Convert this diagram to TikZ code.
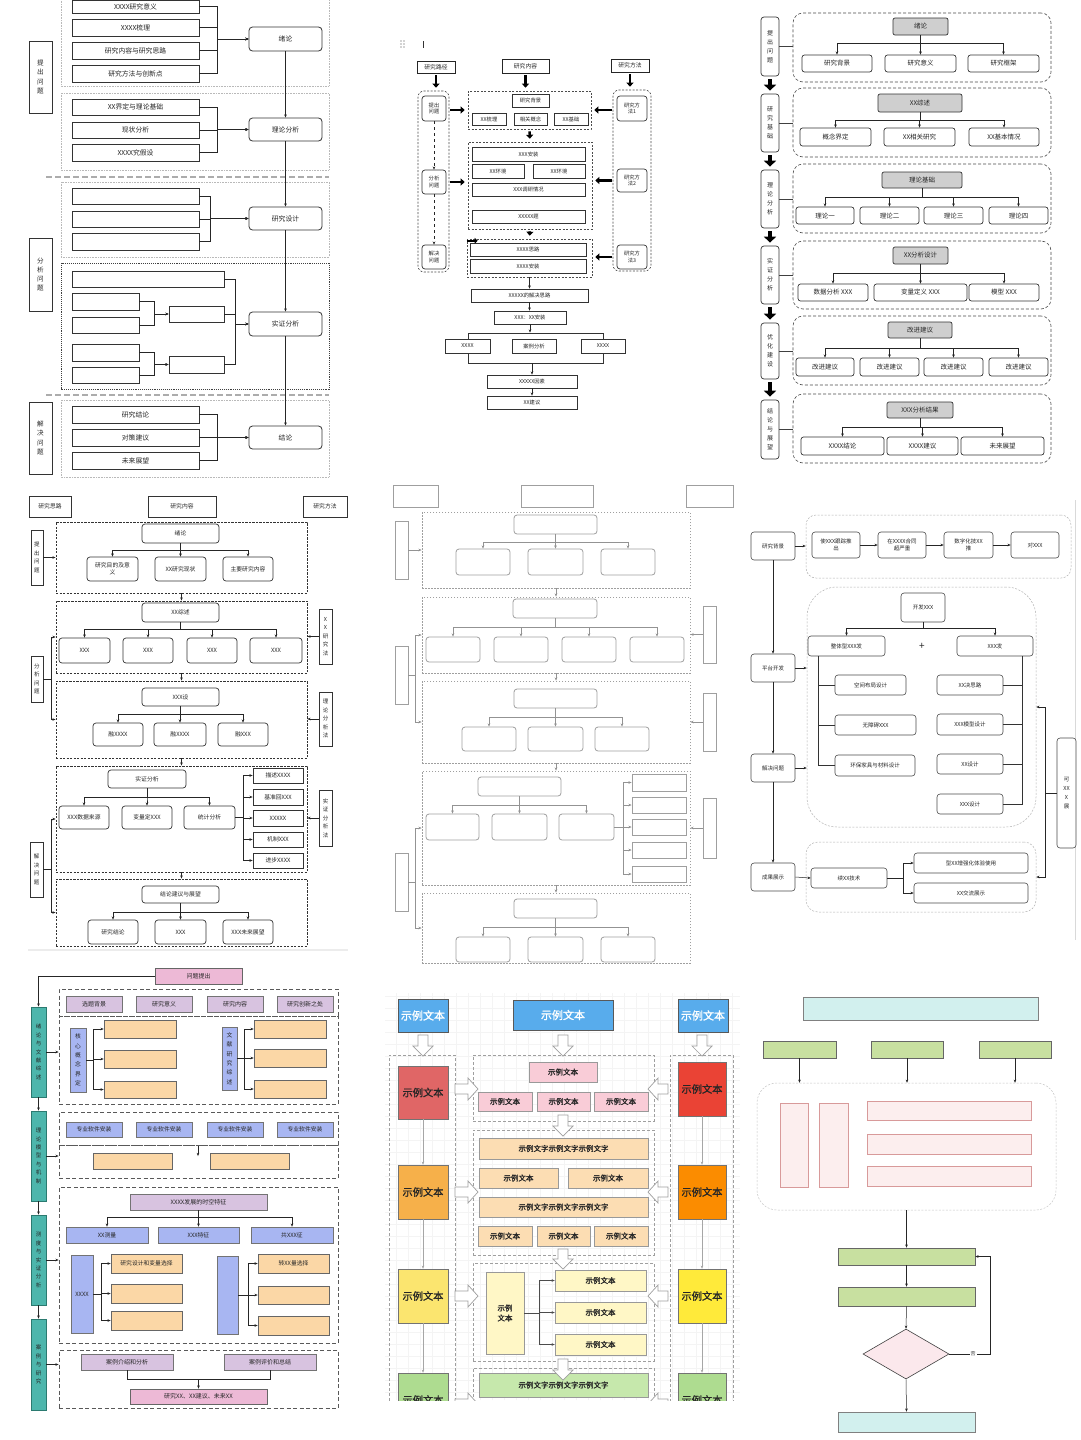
\documentclass[tikz,border=0pt]{standalone}
\usepackage{fontspec}
\setmainfont{Noto Sans CJK SC}
\newfontfamily\cjkb{Noto Sans CJK SC}[FakeBold=1.5]
\usetikzlibrary{arrows.meta,shapes.geometric}
\definecolor{tealL}{HTML}{4DB6AC}
\definecolor{tealD}{HTML}{2B7A70}
\definecolor{pinkQ}{HTML}{EDB9D6}
\definecolor{purL}{HTML}{D8C3E0}
\definecolor{bluL}{HTML}{A8B6F2}
\definecolor{orgL}{HTML}{FBD7A6}
\definecolor{skyB}{HTML}{58ACEC}
\definecolor{redA}{HTML}{E06666}
\definecolor{redB}{HTML}{EA4335}
\definecolor{orA}{HTML}{F6B04A}
\definecolor{orB}{HTML}{FB8C00}
\definecolor{yeA}{HTML}{FBE56F}
\definecolor{yeB}{HTML}{FFEA3A}
\definecolor{grA}{HTML}{AEDC90}
\definecolor{pkC}{HTML}{F9CCD7}
\definecolor{orC}{HTML}{FCDDB3}
\definecolor{yeC}{HTML}{FFF7C6}
\definecolor{grC}{HTML}{C6E8AC}
\definecolor{cyP}{HTML}{D2F0EE}
\definecolor{grP}{HTML}{C8E0A0}
\definecolor{pkP}{HTML}{FCEEEE}
\definecolor{pkD}{HTML}{D89A9A}
\definecolor{dmP}{HTML}{FBE8EC}
\newcommand{\Bx}[7]{\node[bx,#1,minimum width={(#5-#3)*1pt},minimum height={(#6-#4)*1pt}] (#2) at ({(#3+#5)/2},{(#4+#6)/2}) {#7};}
\newcommand{\HD}[3]{\draw[harr] ({#1-5},{#2}) -- ({#1+5},{#2}) -- ({#1+5},{#3-10}) -- ({#1+10},{#3-10}) -- ({#1},{#3}) -- ({#1-10},{#3-10}) -- ({#1-5},{#3-10}) -- cycle;}
\newcommand{\HR}[3]{\draw[harr] ({#2},{#1-5}) -- ({#3-10},{#1-5}) -- ({#3-10},{#1-11}) -- ({#3},{#1}) -- ({#3-10},{#1+11}) -- ({#3-10},{#1+5}) -- ({#2},{#1+5}) -- cycle;}
\newcommand{\HL}[3]{\draw[harr] ({#2},{#1-5}) -- ({#3+10},{#1-5}) -- ({#3+10},{#1-11}) -- ({#3},{#1}) -- ({#3+10},{#1+11}) -- ({#3+10},{#1+5}) -- ({#2},{#1+5}) -- cycle;}
\tikzset{
 bx/.style={inner sep=0pt, align=center, text=black!85},
 arr/.style={-{Stealth[length=3.2pt,width=2.6pt]}, line width=0.5pt, draw=black!85},
 p1/.style={draw=black!80, line width=0.8pt, fill=white, font=\fontsize{6.8}{8}\selectfont},
 p1r/.style={p1, rounded corners=3.5pt},
 p1v/.style={p1, font=\fontsize{6.6}{9.3}\selectfont},
 p1g/.style={draw=gray!55, densely dotted, line width=0.6pt},
 p1gd/.style={draw=black!75, densely dotted, line width=0.9pt},
 sep/.style={draw=gray!65, line width=1.3pt, dash pattern=on 6pt off 3pt},
 p2h/.style={draw=black!85, line width=0.9pt, fill=white, font=\fontsize{5.8}{6.5}\selectfont},
 p2b/.style={draw=black!80, line width=0.7pt, fill=white, font=\fontsize{5.3}{6.2}\selectfont},
 p2r/.style={p2b, rounded corners=3pt},
 p2col/.style={draw=black!70, line width=0.6pt, dash pattern=on 2pt off 1.5pt, rounded corners=6pt},
 p2g/.style={draw=black!70, line width=0.6pt, dash pattern=on 2pt off 1.5pt},
 p2fr/.style={draw=black!80, line width=0.9pt},
 thk/.style={line width=2.4pt, -{Triangle[length=4pt,width=7pt]}, shorten <=2pt, shorten >=3pt},
 p3l/.style={draw=black!80, line width=0.7pt, fill=white, rounded corners=3pt, font=\fontsize{6}{9}\selectfont},
 p3q/.style={draw=black!70, line width=0.6pt, dash pattern=on 3pt off 2pt, rounded corners=10pt},
 p3h/.style={draw=black!80, line width=0.7pt, fill=gray!38, rounded corners=2pt, font=\fontsize{6.5}{7.5}\selectfont},
 p3k/.style={draw=black!80, line width=0.7pt, fill=white, rounded corners=2.5pt, font=\fontsize{6.5}{7.5}\selectfont},
 p3ln/.style={draw=black!75, line width=0.6pt},
 big/.style={line width=3.8pt, -{Triangle[length=6pt,width=12pt]}, shorten <=3pt, shorten >=3pt},
 p4b/.style={draw=black!80, line width=0.7pt, fill=white, font=\fontsize{5.8}{7}\selectfont},
 p4r/.style={p4b, rounded corners=3pt},
 p4v/.style={p4b, font=\fontsize{5.5}{8.5}\selectfont},
 p4g/.style={draw=black!80, line width=0.9pt, dash pattern=on 2.2pt off 1.3pt},
 p5b/.style={draw=gray!75, line width=0.8pt, fill=white},
 p5r/.style={p5b, rounded corners=3pt},
 p5g/.style={draw=gray!75, line width=0.8pt, dash pattern=on 1.5pt off 1.5pt},
 arr5/.style={arr, draw=gray!85},
 p6b/.style={draw=black!70, line width=0.6pt, fill=white, rounded corners=3pt, font=\fontsize{5.5}{7}\selectfont},
 p6g/.style={draw=gray!60, line width=0.5pt, dash pattern=on 2pt off 1.5pt},
 p7t/.style={draw=tealD, fill=tealL, line width=0.8pt, font=\fontsize{5.5}{8.4}\selectfont},
 p7p/.style={draw=black!55, fill=purL, line width=0.6pt, font=\fontsize{6}{7}\selectfont},
 p7q/.style={draw=black!60, fill=pinkQ, line width=0.7pt, font=\fontsize{6}{7}\selectfont},
 p7u/.style={draw=black!55, fill=bluL, line width=0.6pt, font=\fontsize{5.8}{9.3}\selectfont},
 p7o/.style={draw=black!60, fill=orgL, line width=0.6pt, font=\fontsize{5.8}{7}\selectfont},
 p7g/.style={draw=black!65, line width=0.8pt, dash pattern=on 4pt off 2.5pt},
 p8g/.style={draw=gray!75, line width=0.6pt, dash pattern=on 3pt off 2pt},
 p8top/.style={fill=skyB, draw=black!65, line width=0.6pt, font={\cjkb\fontsize{11}{13}\selectfont}, text=white},
 p8s/.style={draw=black!55, line width=0.5pt, font={\cjkb\fontsize{10.2}{12}\selectfont}, text=black!85},
 p8c/.style={draw=black!40, line width=0.5pt, font={\cjkb\fontsize{7.5}{10}\selectfont}, text=black!85},
 harr/.style={draw=gray!75, fill=white, line width=0.7pt, line join=miter},
 arr8/.style={arr, draw=gray!70},
 p9b/.style={draw=black!50, line width=0.6pt},
}
\begin{document}
\begin{tikzpicture}[x=1pt,y=-1pt]
\useasboundingbox (0,0) rectangle (1080,1440);
\clip (0,0) rectangle (1080,1440);
\fill[white] (0,0) rectangle (1080,1440);

% ================= panel 1
\draw[p1g] (61,-4) rectangle (329,86);
\draw[p1g] (61,93) rectangle (329,170);
\draw[sep] (46,177) -- (329,177);
\draw[p1g] (61,182) rectangle (329,257);
\draw[p1gd] (61,263) rectangle (329,389);
\draw[sep] (46,395) -- (329,395);
\draw[p1g] (61,400) rectangle (329,477);
\Bx{p1v}{L1}{29}{41}{52}{113}{提\\出\\问\\题}
\Bx{p1v}{L2}{29}{238}{52}{311}{分\\析\\问\\题}
\Bx{p1v}{L3}{29}{402}{52}{474}{解\\决\\问\\题}
\Bx{p1r}{n1}{249}{27}{322}{51}{绪论}
\Bx{p1r}{n2}{249}{118}{322}{141}{理论分析}
\Bx{p1r}{n3}{249}{207}{322}{230}{研究设计}
\Bx{p1r}{n4}{249}{312}{322}{336}{实证分析}
\Bx{p1r}{n5}{249}{426}{322}{449}{结论}
\draw[arr] (n1.south) -- (n2.north);
\draw[arr] (n2.south) -- (n3.north);
\draw[arr] (n3.south) -- (n4.north);
\draw[arr] (n4.south) -- (n5.north);
\Bx{p1}{a1}{72}{0}{199}{13}{XXXX研究意义}
\Bx{p1}{a2}{72}{19}{199}{36}{XXXX梳理}
\Bx{p1}{a3}{72}{42}{199}{59}{研究内容与研究思路}
\Bx{p1}{a4}{72}{65}{199}{82}{研究方法与创新点}
\foreach \n in {a1,a2,a3,a4} \draw[arr] (\n.east) -- ++(18,0) |- (n1.west);
\Bx{p1}{b1}{72}{99}{199}{115}{XX界定与理论基础}
\Bx{p1}{b2}{72}{122}{199}{138}{现状分析}
\Bx{p1}{b3}{72}{144}{199}{161}{XXXX究假设}
\foreach \n in {b1,b2,b3} \draw[arr] (\n.east) -- ++(18,0) |- (n2.west);
\Bx{p1}{c1}{72}{188}{199}{204}{}
\Bx{p1}{c2}{72}{211}{199}{227}{}
\Bx{p1}{c3}{72}{233}{199}{250}{}
\foreach \n in {c1,c2,c3} \draw[arr] (\n.east) -- ++(11,0) |- (n3.west);
\Bx{p1}{d0}{72}{271}{224}{287}{}
\Bx{p1}{d1}{72}{293}{139}{310}{}
\Bx{p1}{d2}{72}{317}{139}{333}{}
\Bx{p1}{d3}{72}{344}{139}{361}{}
\Bx{p1}{d4}{72}{367}{139}{383}{}
\Bx{p1}{m1}{169}{306}{224}{322}{}
\Bx{p1}{m2}{169}{356}{224}{373}{}
\foreach \n in {d1,d2} \draw[arr] (\n.east) -- ++(15,0) |- (m1.west);
\foreach \n in {d3,d4} \draw[arr] (\n.east) -- ++(15,0) |- (m2.west);
\foreach \n in {d0,m1,m2} \draw[arr] (\n.east) -- ++(11,0) |- (n4.west);
\Bx{p1}{e1}{72}{406}{199}{423}{研究结论}
\Bx{p1}{e2}{72}{429}{199}{446}{对策建议}
\Bx{p1}{e3}{72}{452}{199}{469}{未来展望}
\foreach \n in {e1,e2,e3} \draw[arr] (\n.east) -- ++(18,0) |- (n5.west);

% ================= panel 2
\foreach \dx/\dy in {0/0,3/0,0/3,3/3,0/6,3/6} \fill[gray!70] ({401+\dx},{41+\dy}) circle (0.8pt);
\draw[black!80, line width=0.8pt] (423,41) -- (423,48);
\Bx{p2h}{h1}{417}{61}{455}{73}{研究路径}
\Bx{p2h}{h2}{502}{59}{549}{73}{研究内容}
\Bx{p2h}{h3}{611}{59}{649}{72}{研究方法}
\Bx{p2col}{colL}{418}{91}{449}{272}{}
\Bx{p2col}{colR}{613}{90}{651}{271}{}
\Bx{p2g}{G1}{468}{91}{591}{129}{}
\Bx{p2g}{G2}{468}{142}{592}{229}{}
\Bx{p2g}{G3}{467}{239}{592}{277}{}
\draw[thk] (h1.south) -- (h1.south |- colL.north);
\draw[thk] (h2.south) -- (h2.south |- G1.north);
\draw[thk] (h3.south) -- (h3.south |- colR.north);
\Bx{p2r}{l1}{422}{96}{446}{121}{提出\\问题}
\Bx{p2r}{l2}{422}{170}{446}{194}{分析\\问题}
\Bx{p2r}{l3}{422}{245}{446}{269}{解决\\问题}
\draw[arr,dashed] (l1.south) -- (l2.north);
\draw[arr,dashed] (l2.south) -- (l3.north);
\Bx{p2r}{r1}{617}{96}{647}{121}{研究方\\法1}
\Bx{p2r}{r2}{617}{169}{647}{192}{研究方\\法2}
\Bx{p2r}{r3}{617}{245}{647}{269}{研究方\\法3}
\Bx{p2b}{g1a}{512}{94}{549}{107}{研究背景}
\Bx{p2b}{g1b}{472}{113}{506}{125}{XX梳理}
\Bx{p2b}{g1c}{514}{113}{547}{125}{相关概念}
\Bx{p2b}{g1d}{554}{113}{588}{125}{XX基础}
\Bx{p2b}{g2a}{472}{147}{585}{161}{XXX安装}
\Bx{p2b}{g2b}{472}{164}{524}{178}{XX环境}
\Bx{p2b}{g2c}{533}{164}{585}{178}{XX环境}
\Bx{p2b}{g2d}{472}{183}{585}{196}{XXX调研情况}
\Bx{p2b}{g2e}{472}{210}{585}{223}{XXXXX题}
\Bx{p2b}{g3a}{470}{243}{586}{256}{XXXX思路}
\Bx{p2b}{g3b}{470}{259}{586}{273}{XXXX安装}
\draw[thk, shorten <=1pt] (colL.east |- G1.west) -- (G1.west);
\draw[thk, shorten <=1pt] (colL.east |- l2.east) -- (G2.west |- l2.east);
\draw[thk, shorten <=1pt] (colR.west |- G1.east) -- (G1.east);
\draw[thk, shorten <=1pt] (colR.west |- r2.west) -- (G2.east |- r2.west);
\draw[thk, shorten <=1pt] (colR.west |- r3.west) -- (G3.east |- r3.west);
\draw[thk] (G1.south) -- (G2.north);
\draw[thk] (G2.south) -- (G3.north);
\draw[line width=2pt, -{Triangle[length=3pt,width=5.5pt]}] ([yshift=-2pt]G3.north west) -- ++(11,0);
\Bx{p2b}{s1}{471}{289}{588}{302}{XXXXX的解决思路}
\Bx{p2b}{s2}{494}{311}{566}{324}{XXX：XX安装}
\Bx{p2fr}{R}{468}{333}{603}{363}{}
\Bx{p2b}{t1}{445}{339}{490}{353}{XXXX}
\Bx{p2b}{t2}{512}{339}{556}{353}{案例分析}
\Bx{p2b}{t3}{581}{339}{625}{353}{XXXX}
\Bx{p2b}{s3}{487}{375}{577}{388}{XXXXX因素}
\Bx{p2b}{s4}{487}{396}{577}{409}{XX建议}
\draw[arr] (G3.south) -- (G3.south |- s1.north);
\draw[arr] (s1.south) -- (s1.south |- s2.north);
\draw[arr] (s2.south) -- (s2.south |- R.north);
\draw[arr] (s3.north |- R.south) -- (s3.north);
\draw[arr] (s3.south) -- (s4.north);

% ================= panel 3
\Bx{p3q}{Q1}{793}{13}{1051}{82}{}
\Bx{p3q}{Q2}{793}{88}{1051}{157}{}
\Bx{p3q}{Q3}{793}{164}{1051}{233}{}
\Bx{p3q}{Q4}{793}{241}{1051}{309}{}
\Bx{p3q}{Q5}{793}{316}{1051}{385}{}
\Bx{p3q}{Q6}{793}{394}{1051}{463}{}
\Bx{p3l}{k1}{761}{17}{779}{76}{提\\出\\问\\题}
\Bx{p3l}{k2}{761}{94}{779}{152}{研\\究\\基\\础}
\Bx{p3l}{k3}{761}{170}{779}{228}{理\\论\\分\\析}
\Bx{p3l}{k4}{761}{246}{779}{304}{实\\证\\分\\析}
\Bx{p3l}{k5}{761}{323}{779}{379}{优\\化\\建\\设}
\Bx{p3l}{k6}{761}{400}{779}{459}{结\\论\\与\\展\\望}
\draw[big] (k1.south) -- (k2.north);
\draw[big] (k2.south) -- (k3.north);
\draw[big] (k3.south) -- (k4.north);
\draw[big] (k4.south) -- (k5.north);
\draw[big] (k5.south) -- (k6.north);
\foreach \i in {1,...,6} \draw[p3ln] (k\i.east) -- (Q\i.west |- k\i.east);
\Bx{p3h}{H1}{893}{18}{948}{35}{绪论}
\Bx{p3k}{c11}{802}{55}{872}{72}{研究背景}
\Bx{p3k}{c12}{885}{55}{956}{72}{研究意义}
\Bx{p3k}{c13}{968}{55}{1039}{72}{研究框架}
\foreach \n in {c11,c12,c13} \draw[arr] (H1.south) -- ++(0,8) -| (\n.north);
\Bx{p3h}{H2}{878}{94}{962}{112}{XX综述}
\Bx{p3k}{c21}{800}{128}{871}{146}{概念界定}
\Bx{p3k}{c22}{884}{128}{955}{146}{XX相关研究}
\Bx{p3k}{c23}{969}{128}{1039}{146}{XX基本情况}
\foreach \n in {c21,c22,c23} \draw[arr] (H2.south) -- ++(0,8) -| (\n.north);
\Bx{p3h}{H3}{882}{172}{962}{188}{理论基础}
\Bx{p3k}{c31}{796}{207}{854}{224}{理论一}
\Bx{p3k}{c32}{860}{207}{919}{224}{理论二}
\Bx{p3k}{c33}{924}{207}{983}{224}{理论三}
\Bx{p3k}{c34}{989}{207}{1048}{224}{理论四}
\foreach \n in {c31,c32,c33,c34} \draw[arr] (H3.south) -- ++(0,9) -| (\n.north);
\Bx{p3h}{H4}{893}{247}{948}{264}{XX分析设计}
\Bx{p3k}{c41}{798}{284}{868}{301}{数据分析 XXX}
\Bx{p3k}{c42}{874}{284}{967}{301}{变量定义 XXX}
\Bx{p3k}{c43}{969}{284}{1039}{301}{模型 XXX}
\foreach \n in {c41,c42,c43} \draw[arr] (H4.south) -- ++(0,9) -| (\n.north);
\Bx{p3h}{H5}{888}{322}{952}{338}{改进建议}
\Bx{p3k}{c51}{796}{358}{854}{376}{改进建议}
\Bx{p3k}{c52}{860}{358}{919}{376}{改进建议}
\Bx{p3k}{c53}{924}{358}{983}{376}{改进建议}
\Bx{p3k}{c54}{989}{358}{1048}{376}{改进建议}
\foreach \n in {c51,c52,c53,c54} \draw[arr] (H5.south) -- ++(0,10) -| (\n.north);
\Bx{p3h}{H6}{887}{402}{953}{418}{XXX分析结果}
\Bx{p3k}{c61}{801}{437}{884}{455}{XXXX结论}
\Bx{p3k}{c62}{887}{437}{958}{455}{XXXX建议}
\Bx{p3k}{c63}{961}{437}{1044}{455}{未来展望}
\foreach \n in {c61,c62,c63} \draw[arr] (H6.south) -- ++(0,9) -| (\n.north);

% ================= panel 4
\Bx{p4b}{P1}{29}{496}{71}{517}{研究思路}
\Bx{p4b}{P2}{148}{496}{216}{517}{研究内容}
\Bx{p4b}{P3}{303}{496}{347}{517}{研究方法}
\Bx{p4g}{R1}{56}{522}{307}{593}{}
\Bx{p4g}{R2}{56}{601}{307}{673}{}
\Bx{p4g}{R3}{56}{681}{307}{758}{}
\Bx{p4g}{R4}{56}{766}{307}{872}{}
\Bx{p4g}{R5}{56}{879}{307}{946}{}
\draw[arr] (R1.south) -- (R2.north);
\draw[arr] (R2.south) -- (R3.north);
\draw[arr] (R3.south) -- (R4.north);
\draw[arr] (R4.south) -- (R5.north);
\Bx{p4r}{h41}{142}{524}{219}{543}{绪论}
\Bx{p4r}{c411}{87}{557}{138}{581}{研究目的及意\\义}
\Bx{p4r}{c412}{155}{557}{206}{581}{XX研究现状}
\Bx{p4r}{c413}{223}{557}{273}{581}{主要研究内容}
\foreach \n in {c411,c412,c413} \draw[arr] (h41.south) -- ++(0,7) -| (\n.north);
\Bx{p4r}{h42}{142}{603}{219}{622}{XX综述}
\Bx{p4r}{c421}{59}{638}{110}{663}{XXX}
\Bx{p4r}{c422}{123}{638}{173}{663}{XXX}
\Bx{p4r}{c423}{187}{638}{237}{663}{XXX}
\Bx{p4r}{c424}{250}{638}{302}{663}{XXX}
\foreach \n in {c421,c422,c423,c424} \draw[arr] (h42.south) -- ++(0,7) -| (\n.north);
\Bx{p4r}{h43}{142}{688}{219}{706}{XXX设}
\Bx{p4r}{c431}{93}{723}{143}{746}{融XXXX}
\Bx{p4r}{c432}{154}{723}{206}{746}{融XXXX}
\Bx{p4r}{c433}{218}{723}{268}{746}{融XXX}
\foreach \n in {c431,c432,c433} \draw[arr] (h43.south) -- ++(0,8) -| (\n.north);
\Bx{p4r}{h44}{108}{770}{186}{788}{实证分析}
\Bx{p4r}{c441}{59}{806}{109}{829}{XXX数据来源}
\Bx{p4r}{c442}{122}{806}{172}{829}{变量定XXX}
\Bx{p4r}{c443}{184}{806}{235}{829}{统计分析}
\foreach \n in {c441,c442,c443} \draw[arr] (h44.south) -- ++(0,9) -| (\n.north);
\Bx{p4b}{rb1}{253}{768}{303}{783}{描述XXXX}
\Bx{p4b}{rb2}{253}{789}{303}{805}{基准回XXX}
\Bx{p4b}{rb3}{253}{810}{303}{826}{XXXXX}
\Bx{p4b}{rb4}{253}{832}{303}{847}{机制XXX}
\Bx{p4b}{rb5}{253}{853}{303}{868}{进步XXXX}
\foreach \n in {rb1,rb2,rb3,rb4,rb5} \draw[arr] (c443.east) -- ++(8,0) |- (\n.west);
\Bx{p4r}{h45}{142}{886}{219}{903}{结论建议与展望}
\Bx{p4r}{c451}{88}{920}{138}{944}{研究结论}
\Bx{p4r}{c452}{155}{920}{206}{944}{XXX}
\Bx{p4r}{c453}{223}{920}{273}{944}{XXX未来展望}
\foreach \n in {c451,c452,c453} \draw[arr] (h45.south) -- ++(0,9) -| (\n.north);
\Bx{p4v}{LL1}{31}{530}{43}{585}{提\\出\\问\\题}
\Bx{p4v}{LL2}{31}{656}{43}{702}{分\\析\\问\\题}
\Bx{p4v}{LL3}{30}{842}{43}{897}{解\\决\\问\\题}
\draw[arr] (LL1.east) -- (R1.west |- LL1.east);
\draw[arr] (LL2.east) -- ++(8,0) |- (R2.west);
\draw[arr] (LL2.east) -- ++(8,0) |- (R3.west);
\draw[arr] (LL3.east) -- ++(8,0) |- (R4.west);
\draw[arr] (LL3.east) -- ++(8,0) |- (R5.west);
\Bx{p4v}{RL1}{319}{609}{332}{664}{X\\X\\研\\究\\法}
\Bx{p4v}{RL2}{319}{692}{332}{746}{理\\论\\分\\析\\法}
\Bx{p4v}{RL3}{319}{790}{332}{846}{实\\证\\分\\析\\法}
\draw[arr] (RL1.west) -- (R2.east |- RL1.west);
\draw[arr] (RL2.west) -- (R3.east |- RL2.west);
\draw[arr] (RL3.west) -- (R4.east |- RL3.west);
\draw[gray!15, line width=2pt] (28,950) -- (348,950);

% ================= panel 5
\Bx{p5b}{U1}{393}{485}{438}{507}{}
\Bx{p5b}{U2}{521}{485}{593}{507}{}
\Bx{p5b}{U3}{686}{485}{733}{507}{}
\Bx{p5g}{S1}{422}{512}{690}{588}{}
\Bx{p5g}{S2}{422}{597}{690}{673}{}
\Bx{p5g}{S3}{422}{681}{690}{763}{}
\Bx{p5g}{S4}{422}{771}{690}{885}{}
\Bx{p5g}{S5}{422}{893}{690}{963}{}
\draw[arr5] (S1.south) -- (S2.north);
\draw[arr5] (S2.south) -- (S3.north);
\draw[arr5] (S3.south) -- (S4.north);
\draw[arr5] (S4.south) -- (S5.north);
\Bx{p5r}{f51}{514}{515}{597}{534}{}
\Bx{p5r}{f511}{456}{549}{510}{575}{}
\Bx{p5r}{f512}{528}{549}{583}{575}{}
\Bx{p5r}{f513}{601}{549}{655}{575}{}
\foreach \n in {f511,f512,f513} \draw[arr5] (f51.south) -- ++(0,8) -| (\n.north);
\Bx{p5r}{f52}{513}{599}{597}{618}{}
\Bx{p5r}{f521}{426}{637}{480}{662}{}
\Bx{p5r}{f522}{494}{637}{548}{662}{}
\Bx{p5r}{f523}{562}{637}{616}{662}{}
\Bx{p5r}{f524}{630}{637}{684}{662}{}
\foreach \n in {f521,f522,f523,f524} \draw[arr5] (f52.south) -- ++(0,9) -| (\n.north);
\Bx{p5r}{f53}{514}{689}{597}{708}{}
\Bx{p5r}{f531}{462}{727}{516}{751}{}
\Bx{p5r}{f532}{528}{727}{583}{751}{}
\Bx{p5r}{f533}{595}{727}{649}{751}{}
\foreach \n in {f531,f532,f533} \draw[arr5] (f53.south) -- ++(0,9) -| (\n.north);
\Bx{p5r}{f54}{478}{777}{561}{796}{}
\Bx{p5r}{f541}{426}{814}{479}{840}{}
\Bx{p5r}{f542}{492}{814}{547}{840}{}
\Bx{p5r}{f543}{559}{814}{614}{840}{}
\foreach \n in {f541,f542,f543} \draw[arr5] (f54.south) -- ++(0,9) -| (\n.north);
\Bx{p5b}{q1}{632}{774}{686}{791}{}
\Bx{p5b}{q2}{632}{797}{686}{813}{}
\Bx{p5b}{q3}{632}{819}{686}{835}{}
\Bx{p5b}{q4}{632}{842}{686}{858}{}
\Bx{p5b}{q5}{632}{866}{686}{882}{}
\foreach \n in {q1,q2,q3,q4,q5} \draw[arr5] (f543.east) -- ++(9,0) |- (\n.west);
\Bx{p5r}{f55}{514}{899}{597}{918}{}
\Bx{p5r}{f551}{456}{937}{510}{962}{}
\Bx{p5r}{f552}{528}{937}{583}{962}{}
\Bx{p5r}{f553}{601}{937}{655}{962}{}
\foreach \n in {f551,f552,f553} \draw[arr5] (f55.south) -- ++(0,9) -| (\n.north);
\Bx{p5b}{V51}{395}{521}{408}{579}{}
\Bx{p5b}{V52}{395}{646}{408}{704}{}
\Bx{p5b}{V53}{395}{853}{408}{911}{}
\draw[arr5] (V51.east) -- (S1.west |- V51.east);
\draw[arr5] (V52.east) -- ++(7,0) |- (S2.west);
\draw[arr5] (V52.east) -- ++(7,0) |- (S3.west);
\draw[arr5] (V53.east) -- ++(7,0) |- (S4.west);
\draw[arr5] (V53.east) -- ++(7,0) |- (S5.west);
\Bx{p5b}{W51}{703}{606}{716}{663}{}
\Bx{p5b}{W52}{703}{693}{716}{751}{}
\Bx{p5b}{W53}{703}{798}{716}{858}{}
\draw[arr5] (W51.west) -- (S2.east |- W51.west);
\draw[arr5] (W52.west) -- (S3.east |- W52.west);
\draw[arr5] (W53.west) -- (S4.east |- W53.west);

% ================= panel 6
\draw[gray!30, line width=0.6pt] (1075,500) -- (1075,940);
\Bx{p6g,rounded corners=10pt}{T1}{806}{515}{1071}{578}{}
\Bx{p6g,rounded corners=30pt}{T2}{807}{587}{1036}{827}{}
\Bx{p6g,rounded corners=12pt}{T3}{806}{842}{1036}{912}{}
\Bx{p6b}{W1}{751}{532}{795}{560}{研究背景}
\Bx{p6b}{W2}{751}{654}{795}{682}{平台开发}
\Bx{p6b}{W3}{751}{754}{795}{782}{解决问题}
\Bx{p6b}{W4}{751}{863}{795}{891}{成果展示}
\draw[arr] (W1.south) -- (W2.north);
\draw[arr] (W2.south) -- (W3.north);
\draw[arr] (W3.south) -- (W4.north);
\draw[arr] (W1.east) -- (T1.west |- W1.east);
\draw[arr] (W2.east) -- (T2.west |- W2.east);
\draw[arr] (W3.east) -- (T2.west |- W3.east);
\Bx{p6b}{V1}{812}{532}{860}{558}{使XXX跟踪推\\出}
\Bx{p6b}{V2}{878}{532}{926}{558}{在XXXX合同\\超严重}
\Bx{p6b}{V3}{944}{532}{993}{558}{数字化技XX\\推}
\Bx{p6b}{V4}{1011}{532}{1059}{558}{对XXX}
\draw[arr] (V1.east) -- (V2.west);
\draw[arr] (V2.east) -- (V3.west);
\draw[arr] (V3.east) -- (V4.west);
\Bx{p6b}{X0}{901}{593}{945}{622}{开发XXX}
\Bx{p6b}{Xa}{808}{636}{885}{656}{整体型XXX发}
\Bx{p6b}{Xb}{957}{636}{1033}{656}{XXX发}
\node[font=\fontsize{10}{10}\selectfont, text=black!85] (plus) at (922,646) {+};
\draw[arr] (X0.south) -- ++(0,6) -| (Xa.north);
\draw[arr] (X0.south) -- ++(0,6) -| (Xb.north);
\Bx{p6b}{Ya}{835}{675}{906}{695}{空间布局设计}
\Bx{p6b}{Yb}{835}{715}{916}{735}{无障碍XXX}
\Bx{p6b}{Yc}{835}{755}{915}{776}{环保家具与材料设计}
\foreach \n in {Ya,Yb,Yc} \draw[line width=0.7pt, black!80] ([xshift=11pt]Xa.south west) |- (\n.west);
\Bx{p6b}{Za}{937}{675}{1003}{695}{XX决思路}
\Bx{p6b}{Zb}{937}{714}{1003}{735}{XXX模型设计}
\Bx{p6b}{Zc}{937}{754}{1003}{774}{XX设计}
\Bx{p6b}{Zd}{937}{794}{1003}{814}{XXX设计}
\foreach \n in {Za,Zb,Zc,Zd} \draw[line width=0.7pt, black!80] ([xshift=-11pt]Xb.south east) |- (\n.east);
\Bx{p6b}{U61}{811}{868}{887}{888}{续XX技术}
\Bx{p6b}{U62}{914}{853}{1028}{873}{型XX增强化体验使用}
\Bx{p6b}{U63}{914}{883}{1028}{903}{XX交流展示}
\draw[arr] (W4.east) -- (U61.west);
\draw[arr] (U61.east) -- ++(16,0) |- (U62.west);
\draw[arr] (U61.east) -- ++(16,0) |- (U63.west);
\Bx{p6b,font=\fontsize{5.5}{9}\selectfont}{K}{1057}{738}{1076}{848}{可\\XX\\X\\展}
\draw[arr] (K.west) -- ++(-11,0) |- (T2.east);
\draw[arr] (K.west) -- ++(-11,0) |- (T3.east);

% ================= panel 7
\Bx{p7g}{G7a}{59}{989}{338}{1016}{}
\Bx{p7g}{G7b}{59}{1016}{338}{1104}{}
\Bx{p7g}{G7c}{59}{1112}{338}{1145}{}
\Bx{p7g}{G7d}{59}{1145}{338}{1178}{}
\Bx{p7g}{G7e}{59}{1187}{338}{1343}{}
\Bx{p7g}{G7f}{59}{1350}{338}{1408}{}
\Bx{p7q}{Qp}{155}{968}{242}{984}{问题提出}
\Bx{p7t}{M1}{31}{1007}{46}{1097}{绪\\论\\与\\文\\献\\综\\述}
\Bx{p7t}{M2}{31}{1111}{46}{1201}{理\\论\\模\\型\\与\\机\\制}
\Bx{p7t}{M3}{31}{1215}{46}{1305}{测\\度\\与\\实\\证\\分\\析}
\Bx{p7t}{M4}{31}{1319}{46}{1410}{案\\例\\与\\研\\究}
\draw[arr] (Qp.west) -| (M1.north);
\draw[arr] (M1.south) -- (M2.north);
\draw[arr] (M2.south) -- (M3.north);
\draw[arr] (M3.south) -- (M4.north);
\draw[arr] (M1.east) -- (G7b.west |- M1.east);
\draw[arr] (M2.east) -- (G7d.west |- M2.east);
\draw[arr] (M3.east) -- (G7e.west |- M3.east);
\draw[arr] (M4.east) -- (G7f.west |- M4.east);
\Bx{p7p}{pa1}{66}{996}{122}{1012}{选题背景}
\Bx{p7p}{pa2}{136}{996}{192}{1012}{研究意义}
\Bx{p7p}{pa3}{207}{996}{263}{1012}{研究内容}
\Bx{p7p}{pa4}{277}{996}{333}{1012}{研究创新之处}
\Bx{p7u}{N1}{70}{1028}{86}{1092}{核\\心\\概\\念\\界\\定}
\Bx{p7o}{O1}{104}{1020}{176}{1038}{}
\Bx{p7o}{O2}{104}{1050}{176}{1068}{}
\Bx{p7o}{O3}{104}{1081}{176}{1098}{}
\foreach \n in {O1,O2,O3} \draw[arr] (N1.east) -- ++(7,0) |- (\n.west);
\Bx{p7u}{N2}{222}{1027}{237}{1090}{文\\献\\研\\究\\综\\述}
\Bx{p7o}{O4}{254}{1020}{326}{1038}{}
\Bx{p7o}{O5}{254}{1049}{326}{1067}{}
\Bx{p7o}{O6}{254}{1080}{326}{1098}{}
\foreach \n in {O4,O5,O6} \draw[arr] (N2.east) -- ++(7,0) |- (\n.west);
\Bx{p7u}{sw1}{66}{1122}{122}{1137}{专业软件安装}
\Bx{p7u}{sw2}{136}{1122}{192}{1137}{专业软件安装}
\Bx{p7u}{sw3}{207}{1122}{263}{1137}{专业软件安装}
\Bx{p7u}{sw4}{277}{1122}{333}{1137}{专业软件安装}
\draw[arr] (198,1146) -- (198,1156);
\Bx{p7o}{O7}{93}{1153}{172}{1169}{}
\Bx{p7o}{O8}{210}{1153}{289}{1169}{}
\Bx{p7p}{J}{130}{1194}{267}{1210}{XXXX发展的时空特征}
\Bx{p7u}{jb1}{66}{1227}{148}{1243}{XX测量}
\Bx{p7u}{jb2}{158}{1227}{239}{1243}{XXX特征}
\Bx{p7u}{jb3}{251}{1227}{333}{1243}{共XXX征}
\foreach \n in {jb1,jb2,jb3} \draw[arr] (J.south) -- ++(0,7) -| (\n.north);
\Bx{p7u}{F1}{71}{1255}{93}{1333}{XXXX}
\Bx{p7o}{O9}{111}{1254}{182}{1273}{研究设计和变量选择}
\Bx{p7o}{O10}{111}{1284}{182}{1303}{}
\Bx{p7o}{O11}{111}{1311}{182}{1330}{}
\foreach \n in {O9,O10,O11} \draw[arr] (F1.east) -- ++(8,0) |- (\n.west);
\Bx{p7u}{F2}{217}{1256}{238}{1334}{}
\Bx{p7o}{O12}{258}{1254}{329}{1273}{转XX量选择}
\Bx{p7o}{O13}{258}{1286}{329}{1304}{}
\Bx{p7o}{O14}{258}{1316}{329}{1335}{}
\foreach \n in {O12,O13,O14} \draw[arr] (F2.east) -- ++(10,0) |- (\n.west);
\Bx{p7p}{E1}{81}{1354}{173}{1370}{案例介绍和分析}
\Bx{p7p}{E2}{224}{1354}{316}{1370}{案例评价和总结}
\Bx{p7q}{E3}{130}{1389}{267}{1404}{研究XX、XX建议、未来XX}
\draw[line width=0.5pt, black!85] (E1.south) -- ++(0,9) -| (E2.south);
\coordinate (ej) at (198.5,1379);
\draw[arr] (ej) -- (E3.north);

% ================= panel 8
\begin{scope}
\clip (385,993) rectangle (740,1400);
\draw[gray!9, step=12pt, line width=0.4pt] (385,993) grid (740,1400);
\Bx{p8g}{CL}{389}{1055}{455}{1430}{}
\Bx{p8g}{CR}{670}{1055}{733}{1430}{}
\Bx{p8g}{K1}{473}{1055}{654}{1121}{}
\Bx{p8g}{K2}{473}{1130}{654}{1255}{}
\Bx{p8g}{K3}{473}{1263}{654}{1361}{}
\Bx{p8g}{K4}{473}{1368}{654}{1430}{}
\Bx{p8top}{TB1}{398}{999}{448}{1032}{示例文本}
\Bx{p8top}{TB2}{513}{1000}{613}{1030}{示例文本}
\Bx{p8top}{TB3}{678}{999}{728}{1032}{示例文本}
\HD{423}{1035}{1056}
\HD{563}{1035}{1056}
\HD{702}{1035}{1056}
\Bx{p8s,fill=redA}{LB1}{398}{1066}{448}{1119}{示例文本}
\Bx{p8s,fill=orA}{LB2}{398}{1165}{448}{1219}{示例文本}
\Bx{p8s,fill=yeA}{LB3}{398}{1269}{448}{1323}{示例文本}
\Bx{p8s,fill=grA}{LB4}{398}{1373}{448}{1427}{示例文本}
\draw[arr8] (LB1.south) -- (LB2.north);
\draw[arr8] (LB2.south) -- (LB3.north);
\draw[arr8] (LB3.south) -- (LB4.north);
\Bx{p8s,fill=redB}{RB1}{678}{1062}{726}{1116}{示例文本}
\Bx{p8s,fill=orB}{RB2}{678}{1165}{726}{1219}{示例文本}
\Bx{p8s,fill=yeB}{RB3}{678}{1269}{726}{1323}{示例文本}
\Bx{p8s,fill=grA}{RB4}{678}{1373}{726}{1427}{示例文本}
\draw[arr8] (RB1.south) -- (RB2.north);
\draw[arr8] (RB2.south) -- (RB3.north);
\draw[arr8] (RB3.south) -- (RB4.north);
\Bx{p8c,fill=pkC}{k1a}{529}{1062}{597}{1082}{示例文本}
\Bx{p8c,fill=pkC}{k1b}{478}{1092}{532}{1111}{示例文本}
\Bx{p8c,fill=pkC}{k1c}{537}{1092}{590}{1111}{示例文本}
\Bx{p8c,fill=pkC}{k1d}{594}{1092}{648}{1111}{示例文本}
\Bx{p8c,fill=orC}{k2a}{479}{1138}{648}{1159}{示例文字示例文字示例文字}
\Bx{p8c,fill=orC}{k2b}{479}{1168}{558}{1188}{示例文本}
\Bx{p8c,fill=orC}{k2c}{568}{1168}{648}{1188}{示例文本}
\Bx{p8c,fill=orC}{k2d}{479}{1197}{648}{1217}{示例文字示例文字示例文字}
\Bx{p8c,fill=orC}{k2e}{478}{1226}{532}{1246}{示例文本}
\Bx{p8c,fill=orC}{k2f}{537}{1226}{590}{1246}{示例文本}
\Bx{p8c,fill=orC}{k2g}{594}{1226}{648}{1246}{示例文本}
\Bx{p8c,fill=yeC}{k3a}{486}{1272}{524}{1354}{示例\\文本}
\Bx{p8c,fill=yeC}{k3b}{555}{1270}{646}{1291}{示例文本}
\Bx{p8c,fill=yeC}{k3c}{555}{1302}{646}{1323}{示例文本}
\Bx{p8c,fill=yeC}{k3d}{555}{1334}{646}{1355}{示例文本}
\foreach \n in {k3b,k3c,k3d} \draw[arr8, draw=black!70] (k3a.east) -- ++(15,0) |- (\n.west);
\Bx{p8c,fill=grC}{k4a}{479}{1373}{648}{1397}{示例文字示例文字示例文字}
\HD{563}{1115}{1136}
\HD{563}{1249}{1269}
\HD{563}{1359}{1380}
\foreach \yy in {1089,1192,1296,1404} {\HR{\yy}{455}{478} \HL{\yy}{668}{648}}
\end{scope}

% ================= panel 9
\Bx{p9b,fill=cyP}{C1}{803}{997}{1038}{1020}{}
\Bx{p9b,fill=grP,draw=black!60}{g91}{763}{1041}{836}{1058}{}
\Bx{p9b,fill=grP,draw=black!60}{g92}{871}{1041}{943}{1058}{}
\Bx{p9b,fill=grP,draw=black!60}{g93}{979}{1041}{1051}{1058}{}
\Bx{draw=gray!45, line width=0.5pt, dash pattern=on 2pt off 1.5pt, rounded corners=20pt}{YY}{757}{1083}{1056}{1210}{}
\draw[arr] (g91.south) -- (g91.south |- YY.north);
\draw[arr] (g92.south) -- (g92.south |- YY.north);
\draw[arr] (g93.south) -- (g93.south |- YY.north);
\Bx{fill=pkP,draw=pkD,line width=0.6pt}{PT1}{780}{1103}{808}{1187}{}
\Bx{fill=pkP,draw=pkD,line width=0.6pt}{PT2}{819}{1103}{848}{1187}{}
\Bx{fill=pkP,draw=pkD,line width=0.6pt}{PR1}{867}{1101}{1031}{1120}{}
\Bx{fill=pkP,draw=pkD,line width=0.6pt}{PR2}{867}{1134}{1031}{1154}{}
\Bx{fill=pkP,draw=pkD,line width=0.6pt}{PR3}{867}{1166}{1031}{1186}{}
\Bx{p9b,fill=grP,draw=black!60}{GG1}{838}{1248}{975}{1265}{}
\Bx{p9b,fill=grP,draw=black!60}{GG2}{838}{1287}{975}{1306}{}
\node[draw=black!75, fill=dmP, line width=0.6pt, diamond, minimum width=86pt, minimum height=50pt, inner sep=0pt] (DD) at (906,1354) {};
\Bx{p9b,fill=cyP}{C2}{838}{1412}{975}{1432}{}
\draw[arr] (YY.south -| GG1.north) -- (GG1.north);
\draw[arr] (GG1.south) -- (GG2.north);
\draw[arr] (GG2.south) -- (DD.north);
\draw[arr] (DD.south) -- (C2.north);
\draw[arr] (DD.east) -- ++(41,0) |- (GG1.east);
\node[font=\fontsize{5}{6}\selectfont, fill=white, inner sep=1pt, text=black!80] (no) at (973,1354) {否};
\end{tikzpicture}
\end{document}
